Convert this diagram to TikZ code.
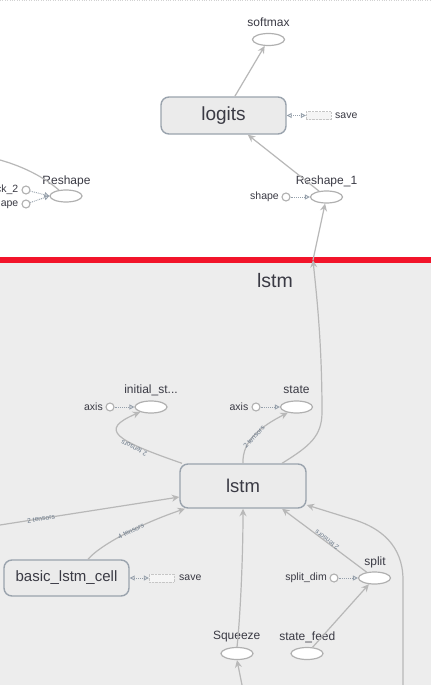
\documentclass[tikz,border=0pt]{standalone}
\usepackage{fontspec}
\setmainfont{Liberation Sans}
\usetikzlibrary{shapes.geometric,arrows.meta}
\definecolor{edgec}{HTML}{B8B8B8}
\definecolor{boxborder}{HTML}{9AA3AD}
\definecolor{boxfill}{HTML}{EBEBEB}
\definecolor{groupbg}{HTML}{EDEDED}
\definecolor{redband}{HTML}{F2142A}
\definecolor{txt}{HTML}{3A3A44}
\definecolor{ctrl}{HTML}{96A0AB}
\definecolor{elbl}{HTML}{6E7C8C}
\definecolor{opstroke}{HTML}{B0B0B0}
\tikzset{
  opnode/.style={ellipse, draw=opstroke, fill=white, line width=1.2pt, minimum width=32pt, minimum height=12pt, inner sep=0pt},
  metabox/.style={rectangle, rounded corners=8pt, draw=boxborder, fill=boxfill, line width=1.4pt, text=txt, inner sep=0pt},
  constnode/.style={circle, draw=opstroke, fill=white, line width=1.1pt, minimum size=8pt, inner sep=0pt},
  nlabel/.style={text=txt, font=\fontsize{12}{12}\selectfont, inner sep=0pt},
  slabel/.style={text=txt, font=\fontsize{10.5}{10.5}\selectfont, inner sep=0pt},
  dataedge/.style={draw=edgec, line width=1.2pt, -{Stealth[length=7.5pt,width=7pt]}},
  plainedge/.style={draw=edgec, line width=1.2pt},
  ctrledge/.style={draw=ctrl, line width=0.9pt, densely dotted, -{Triangle[open,length=5pt,width=5pt]}},
  bothedge/.style={draw=ctrl, line width=0.9pt, densely dotted, {Triangle[open,length=5pt,width=5pt]}-{Triangle[open,length=5pt,width=5pt]}},
  elabel/.style={text=elbl, font=\fontsize{6.8}{6.8}\selectfont, inner sep=0.5pt},
  savebox/.style={rectangle, draw=gray!45, densely dotted, fill=boxfill!50!white, minimum width=25pt, minimum height=8pt, inner sep=0pt},
}
\begin{document}
\begin{tikzpicture}[x=1pt,y=-1pt]
\useasboundingbox (0,0) rectangle (431,685);
\clip (0,0) rectangle (431,685);
% backgrounds
\fill[white] (0,0) rectangle (431,257);
\fill[groupbg] (0,263) rectangle (431,685);
\fill[redband] (0,257) rectangle (431,263);
\draw[gray!35, dotted] (0,0.6) -- (431,0.6);

% ---------- top (white) area ----------
\node[opnode] (softmax) at (268.5,39.5) {};
\node[nlabel] (softmaxlbl) at (268.5,22) {softmax};
\node[metabox, minimum width=125pt, minimum height=37pt, font=\fontsize{19}{19}\selectfont] (logits) at (223.5,115.5) {logits};
\node[savebox] (save1) at (318.5,115.5) {};
\node[slabel, anchor=west] (save1lbl) at (335,115.5) {save};
\node[opnode] (reshape1) at (326.5,197) {};
\node[nlabel] (reshape1lbl) at (326.5,181) {Reshape\_1};
\node[constnode] (shapec1) at (286,197) {};
\node[slabel, anchor=east] (shapec1lbl) at (279,197) {shape};

\node[opnode] (reshape) at (66,196) {};
\node[nlabel] (reshapelbl) at (66.5,181) {Reshape};
\node[constnode] (stack2) at (26,190) {};
\node[slabel, anchor=east] (stack2lbl) at (18.5,190) {stack\_2};
\node[constnode] (shape0) at (26,204) {};
\node[slabel, anchor=east] (shape0lbl) at (18.5,204) {shape};
\coordinate (leftout) at (0,160);

\draw[dataedge] (logits) -- (softmax);
\draw[bothedge] (logits.east) -- (save1.west);
\draw[dataedge] (reshape1) -- (logits);
\draw[ctrledge] (shapec1) -- (reshape1);
\draw[ctrledge] (stack2) -- (reshape.west);
\draw[ctrledge] (shape0) -- (reshape.west);
\draw[plainedge] (reshape.140) .. controls (45,178) and (25,167) .. (leftout);

% ---------- lstm group ----------
\node[text=txt, font=\fontsize{19.5}{19.5}\selectfont, inner sep=0pt] (grouptitle) at (275,281) {lstm};
\coordinate (grouptop) at (313,260);

\node[opnode] (initst) at (151,407) {};
\node[nlabel] (initstlbl) at (151,390) {initial\_st...};
\node[constnode] (axis1) at (110,407) {};
\node[slabel, anchor=east] (axis1lbl) at (103,407) {axis};

\node[opnode] (state) at (296.5,407) {};
\node[nlabel] (statelbl) at (296.5,390) {state};
\node[constnode] (axis2) at (256,407) {};
\node[slabel, anchor=east] (axis2lbl) at (248.5,407) {axis};

\node[metabox, minimum width=126pt, minimum height=44pt, font=\fontsize{18.5}{18.5}\selectfont] (lstm) at (243,486) {lstm};

\node[metabox, minimum width=125pt, minimum height=36pt, font=\fontsize{15}{15}\selectfont] (cell) at (66.5,578) {basic\_lstm\_cell};
\node[savebox] (save2) at (161.5,578) {};
\node[slabel, anchor=west] (save2lbl) at (179,578) {save};

\node[opnode] (squeeze) at (237,653.5) {};
\node[nlabel] (squeezelbl) at (236.7,637) {Squeeze};
\node[opnode] (statefeed) at (307,653.5) {};
\node[nlabel] (statefeedlbl) at (307.3,637) {state\_feed};
\node[opnode] (split) at (374.5,578) {};
\node[nlabel] (splitlbl) at (375,562) {split};
\node[constnode] (splitdim) at (334,578) {};
\node[slabel, anchor=east] (splitdimlbl) at (327,578) {split\_dim};

\coordinate (leftin) at (0,525);
\coordinate (bottomin) at (242,685);
\coordinate (rightin) at (403,685);

% edges in group
\draw[ctrledge] (axis1) -- (initst);
\draw[ctrledge] (axis2) -- (state);
\draw[dataedge] ([xshift=-61pt]lstm.north) .. controls (115,440) and (98,430) .. (initst.205);
\node[elabel, rotate=153] (e1) at (134,448) {2 tensors};
\draw[dataedge] (lstm.north) .. controls (242,440) and (262,426) .. (state.213);
\node[elabel, rotate=48] (e2) at (254,437) {2 tensors};
\draw[dataedge] ([xshift=39pt]lstm.north) .. controls (310,446) and (322,436) .. (322,412) .. controls (322,340) and (316,290) .. (grouptop);
\draw[dataedge] (grouptop) -- (reshape1);

\draw[dataedge] (leftin) -- ([yshift=-11pt]lstm.west);
\node[elabel, rotate=9] (e3) at (41,518.5) {2 tensors};
\draw[bothedge] (cell.east) -- (save2.west);
\draw[dataedge] ([xshift=21.5pt]cell.north) .. controls (100,545) and (140,524) .. ([xshift=-58pt]lstm.south);
\node[elabel, rotate=26] (e4) at (131,531) {4 tensors};

\draw[dataedge] (squeeze.north) .. controls (240,620) and (243,560) .. (lstm.south);
\draw[dataedge] (bottomin) -- (squeeze.south);
\draw[ctrledge] (splitdim) -- (split);
\draw[dataedge] (statefeed) -- (split);
\draw[dataedge] (split) -- ([xshift=39pt]lstm.south);
\node[elabel, rotate=143] (e5) at (327,540) {2 tensors};
\draw[dataedge] (rightin) -- (403,580) .. controls (403,545) and (380,528) .. (355,520) -- ([yshift=-19pt]lstm.east);
\end{tikzpicture}
\end{document}
